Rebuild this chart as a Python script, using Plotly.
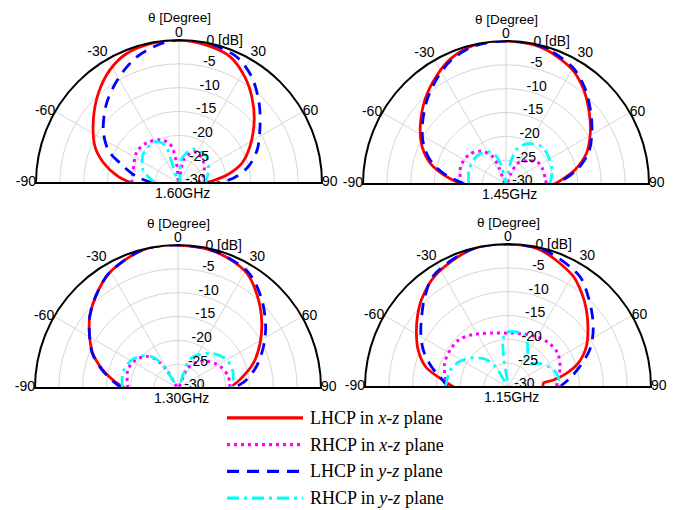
import plotly.graph_objects as go

# ---------------- data (theta in degrees, gain in dB) ----------------
FREQS = ["1.60GHz", "1.45GHz", "1.30GHz", "1.15GHz"]

# 1.60 GHz
th_lhcp_xz_160 = [-90, -84, -75, -66.6, -53.7, -42, -31.4, -22, -10, 0, 11.3, 22, 31.8, 40.1, 50, 62.9, 72.6, 80.5, 87.6, 90]
lhcp_xz_160 = [-20.1, -17.2, -13.6, -10.8, -7.7, -4.7, -2.2, -0.7, -0.1, 0, -0.5, -1.4, -3.8, -6.3, -9.4, -13.3, -16.2, -19.8, -23.5, -24.5]
th_rhcp_xz_160 = [-90, -78, -53.5, -38.7, -23.8, -13, -7.4, 0, 11.4, 27, 45, 59, 75, 90]
rhcp_xz_160 = [-20.1, -20.1, -19, -19.2, -20.1, -21.6, -25.1, -30, -25, -22.6, -23, -23.8, -24.8, -26]
th_lhcp_yz_160 = [-90, -81.5, -71.5, -65, -55, -42.2, -30, -18.5, -8, 0, 11.2, 24.5, 34.4, 45.2, 55.2, 67.1, 76.8, 85, 90]
lhcp_yz_160 = [-24.6, -21, -17, -13.6, -10.6, -7.4, -4.6, -2.1, -0.6, 0, 0, -0.9, -3, -6.3, -9.3, -12.2, -15.1, -18.6, -22.1]
th_rhcp_yz_160 = [-90, -70, -50, -30, -20, -19, -10, 5, 8, 22.8, 46.5, 68.9, 90]
rhcp_yz_160 = [-25, -22, -20.3, -20, -21.6, -25, -30, -26, -24.5, -22.3, -22, -23.4, -24.5]

# 1.45 GHz
th_lhcp_xz_145 = [-90, -81.7, -74.6, -65.9, -56, -43.6, -32.5, -23.9, -13, 0, 14.5, 29.7, 39.2, 49.4, 58.7, 69, 78.4, 85.8, 90]
lhcp_xz_145 = [-20.5, -16.8, -13.5, -10.7, -8.3, -5.4, -3, -1.3, -0.1, 0, -0.4, -2.2, -4.3, -7, -9.3, -11.9, -15.2, -18.3, -19.8]
th_rhcp_xz_145 = [-90, -69, -51.7, -37.7, -26, -23, 0, 25, 29.4, 42.9, 56, 69, 81.7, 90]
rhcp_xz_145 = [-20.6, -19.8, -20.1, -21.3, -23.6, -26.4, -30, -27.5, -25, -23.3, -21.9, -21.7, -21.7, -21.5]
th_lhcp_yz_145 = [-90, -81.7, -74.6, -65.9, -56, -43.6, -32.5, -23.9, -13, 0, 14.5, 29.7, 39.2, 49.4, 58.7, 69, 78.4, 85.8, 90]
lhcp_yz_145 = [-21.3, -17.4, -14.1, -11.2, -8.8, -5.9, -3.4, -1.6, -0.3, 0, -0.2, -1.8, -3.9, -6.6, -8.9, -11.4, -14.7, -17.9, -19.5]
th_rhcp_yz_145 = [-90, -69, -52, -39.8, -27.8, -19.7, -14.7, -12.8, 0, 10.9, 13.7, 18, 28.4, 43.2, 56.7, 73, 90]
rhcp_yz_145 = [-22.2, -21.7, -21.5, -21.7, -22.4, -23.7, -25.8, -28.4, -30, -26.3, -24.1, -22.1, -20.4, -19.2, -19.4, -19.9, -20.8]

# 1.30 GHz
th_lhcp_xz_130 = [-90, -84, -76.3, -67.6, -58.1, -50.7, -41.7, -30.9, -14.3, 0, 15.9, 30.9, 42.2, 52, 61.1, 71.6, 82.3, 90]
lhcp_xz_130 = [-18.8, -16.6, -13.7, -10.6, -8.1, -6.1, -4.1, -1.9, -0.1, 0, -0.4, -1.9, -4.9, -7.7, -10.3, -13.3, -16.9, -19.2]
th_rhcp_xz_130 = [-90, -69.9, -55.8, -45, -37.4, -32.5, -33.7, 0, 26.6, 24.4, 33.7, 46.7, 62.5, 76.9, 90]
rhcp_xz_130 = [-19.5, -18.8, -19.4, -20.6, -22.5, -25.4, -28.7, -30, -28.5, -25.8, -23.7, -21.8, -20.1, -19.2, -19.1]
th_lhcp_yz_130 = [-90, -84, -76.3, -67.6, -58.1, -50.7, -41.7, -30.9, -14.3, 0, 15, 31.3, 43.3, 54.8, 63.9, 74.5, 84.3, 90]
lhcp_yz_130 = [-18.2, -16.3, -13.5, -10.5, -8.1, -6.1, -4.1, -1.9, -0.1, 0, -0.3, -1.6, -4.4, -7.5, -10, -12.9, -15.9, -18.4]
th_rhcp_yz_130 = [-90, -73, -59.3, -47.3, -37.9, -33.7, -33, 0, 20.6, 22.4, 33, 45.5, 59.6, 74.7, 90]
rhcp_yz_130 = [-18.3, -18, -18.6, -20, -22, -24.9, -28.5, -30, -27, -23.5, -21.6, -19.7, -18.2, -18, -18.8]

# 1.15 GHz
th_lhcp_xz_115 = [-90, -81.8, -76.2, -67.6, -59.5, -52, -44.7, -33.3, -14.6, 0, 12.8, 30.3, 37.9, 45.4, 54.5, 62.7, 71.4, 77, 81.4, 83.5, 90]
lhcp_xz_115 = [-18.6, -15.2, -12.2, -9.6, -7.7, -5.9, -4.2, -2.1, -0.1, 0, -0.4, -3, -4.9, -6.9, -9.4, -11.5, -14.5, -17.5, -20.5, -22.5, -22.6]
th_rhcp_xz_115 = [-90, -69.7, -57.4, -46.4, -34.6, -16.4, 0, 8.2, 29, 43.4, 56, 68.8, 84.2, 90]
rhcp_xz_115 = [-17.2, -15.8, -15.6, -15.7, -16.7, -18.2, -18.7, -18.6, -17.9, -17.4, -17.4, -18.3, -19.5, -19.9]
th_lhcp_yz_115 = [-90, -81.6, -75.2, -66.4, -58.3, -50.7, -43.8, -33.9, -15, 0, 15, 32.8, 41.4, 50.1, 57.7, 65.6, 74.3, 82.2, 90]
lhcp_yz_115 = [-17.4, -15.6, -13.4, -10.6, -8.5, -6.6, -4.6, -1.9, -0.1, 0, -0.3, -2.3, -4.6, -6.9, -8.9, -11.2, -14.4, -17, -19.2]
th_rhcp_yz_115 = [-90, -73.8, -63, -50.9, -38.9, -31.7, -31, -10, -8.5, -6.1, -2.5, 6.2, 17.2, 24, 30.1, 39.6, 53, 68.3, 76.7, 86.3, 90]
rhcp_yz_115 = [-16.9, -17.4, -18.4, -20.3, -22.5, -25, -28.4, -30, -24.3, -20.1, -18.7, -18.3, -18.6, -20, -21.8, -23.6, -21.8, -19.9, -19.3, -19.2, -19.1]

ANG_TICKS = [-90, -60, -30, 0, 30, 60, 90]
ANG_TEXT = ["-90", "-60", "-30", "0", "30", "60", "90"]
R_TICKS = [-30, -25, -20, -15, -10, -5, 0]
R_TEXT = ["-30", "-25", "-20", "-15", "-10", "-5", "0 [dB]"]

SERIES_NAMES = ["LHCP in <i>x</i>-<i>z</i> plane", "RHCP in <i>x</i>-<i>z</i> plane",
                "LHCP in <i>y</i>-<i>z</i> plane", "RHCP in <i>y</i>-<i>z</i> plane"]
COLORS = ["#ff0000", "#ff00ff", "#0000ff", "#00ffff"]
DASHES = ["solid", "3px,4px", "12px,8px", "12px,5px,3px,5px"]
WIDTHS = [2.8, 3, 2.8, 2.8]

panels = [
    (FREQS[0], [(th_lhcp_xz_160, lhcp_xz_160), (th_rhcp_xz_160, rhcp_xz_160),
                (th_lhcp_yz_160, lhcp_yz_160), (th_rhcp_yz_160, rhcp_yz_160)]),
    (FREQS[1], [(th_lhcp_xz_145, lhcp_xz_145), (th_rhcp_xz_145, rhcp_xz_145),
                (th_lhcp_yz_145, lhcp_yz_145), (th_rhcp_yz_145, rhcp_yz_145)]),
    (FREQS[2], [(th_lhcp_xz_130, lhcp_xz_130), (th_rhcp_xz_130, rhcp_xz_130),
                (th_lhcp_yz_130, lhcp_yz_130), (th_rhcp_yz_130, rhcp_yz_130)]),
    (FREQS[3], [(th_lhcp_xz_115, lhcp_xz_115), (th_rhcp_xz_115, rhcp_xz_115),
                (th_lhcp_yz_115, lhcp_yz_115), (th_rhcp_yz_115, rhcp_yz_115)]),
]

W, H = 680, 510
# polar domains in pixels: (x0, x1, ytop, ybottom)
DOMAINS_PX = [(36, 322, 40, 183), (363, 649, 41, 184), (35, 321, 245, 388), (365, 651, 244, 387)]

FONT = "Liberation Sans, Arial, sans-serif"
LABEL_ANGLE = 8.6      # direction along which the radial tick labels are written
LABEL_LIFT = 0.5       # dB, small upward nudge of the radial labels
ANG_POS = ["middle left", "middle left", "top left", "top center", "top right", "middle right", "middle right"]
ANG_EDGE = 89.9        # keep the +/-90 labels inside the sector

fig = go.Figure()
layout = dict(width=W, height=H, margin=dict(l=0, r=0, t=0, b=0), paper_bgcolor="white",
              plot_bgcolor="white", showlegend=False, annotations=[])

for i, (freq, curves) in enumerate(panels):
    pid = "polar" if i == 0 else f"polar{i+1}"
    x0, x1, yt, yb = DOMAINS_PX[i]
    dom_x = [x0 / W, x1 / W]
    dom_y = [1 - yb / H, 1 - yt / H]
    layout[pid] = dict(
        domain=dict(x=dom_x, y=dom_y),
        sector=[0, 180],
        bgcolor="white",
        angularaxis=dict(rotation=90, direction="clockwise", tickmode="array",
                         tickvals=ANG_TICKS, showticklabels=False,
                         showline=True, linecolor="black", linewidth=2,
                         showgrid=True, gridcolor="#d6d6d6", gridwidth=1, ticks=""),
        radialaxis=dict(range=[-30, 0], tickmode="array", tickvals=R_TICKS,
                        showticklabels=False, showline=False, ticks="",
                        showgrid=True, gridcolor="#d6d6d6", gridwidth=1),
    )
    # baseline (diameter)
    fig.add_trace(go.Scatterpolar(r=[0, -30, 0], theta=[-90, 0, 90], mode="lines",
                                  line=dict(color="black", width=2), subplot=pid,
                                  hoverinfo="skip", showlegend=False))
    for k, (th, rv) in enumerate(curves):
        fig.add_trace(go.Scatterpolar(r=rv, theta=th, mode="lines", subplot=pid,
                                      line=dict(color=COLORS[k], width=WIDTHS[k], dash=DASHES[k],
                                                shape="spline", smoothing=0.9),
                                      showlegend=False, cliponaxis=False))
    # radial tick labels written along a slightly tilted line
    fig.add_trace(go.Scatterpolar(r=[min(v + LABEL_LIFT, 0) for v in R_TICKS],
                                  theta=[LABEL_ANGLE] * len(R_TICKS),
                                  mode="markers+text", text=R_TEXT, textposition="middle right",
                                  marker=dict(size=8, opacity=0), cliponaxis=False, subplot=pid,
                                  textfont=dict(size=14, color="black", family=FONT),
                                  hoverinfo="skip", showlegend=False))
    # angular tick labels just outside the outer arc
    ang_theta = [max(-ANG_EDGE, min(ANG_EDGE, a)) for a in ANG_TICKS]
    fig.add_trace(go.Scatterpolar(r=[0] * len(ANG_TICKS), theta=ang_theta, mode="text",
                                  text=ANG_TEXT, textposition=ANG_POS, cliponaxis=False, subplot=pid,
                                  textfont=dict(size=14, color="black", family=FONT),
                                  hoverinfo="skip", showlegend=False))
    cx = (dom_x[0] + dom_x[1]) / 2
    layout["annotations"].append(dict(text="θ [Degree]", x=cx, y=dom_y[1], xref="paper", yref="paper",
                                      yshift=22, showarrow=False, xanchor="center", yanchor="middle",
                                      font=dict(size=13.5, color="black", family=FONT)))
    layout["annotations"].append(dict(text=freq, x=cx, y=dom_y[0], xref="paper", yref="paper",
                                      yshift=-10, xshift=3, showarrow=False, xanchor="center",
                                      yanchor="middle", font=dict(size=14, color="black", family=FONT)))

# ---------------- custom legend on a hidden cartesian axis ----------------
for k in range(4):
    fig.add_trace(go.Scatter(x=[0, 1], y=[k, k], mode="lines", xaxis="x", yaxis="y",
                             line=dict(color=COLORS[k], width=WIDTHS[k] + 0.4, dash=DASHES[k]),
                             showlegend=False, hoverinfo="skip"))
    layout["annotations"].append(dict(text=SERIES_NAMES[k], x=1, y=k, xref="x", yref="y",
                                      xanchor="left", yanchor="middle", xshift=5, showarrow=False,
                                      font=dict(size=18, color="black",
                                                family="Liberation Serif, Times New Roman, serif")))
layout["xaxis"] = dict(domain=[227 / W, 303 / W], range=[0, 1], visible=False)
layout["yaxis"] = dict(domain=[1 - 504.7 / H, 1 - 411.3 / H], range=[3.25, -0.25], visible=False)

fig.update_layout(**layout)
fig.write_html("out.html")
